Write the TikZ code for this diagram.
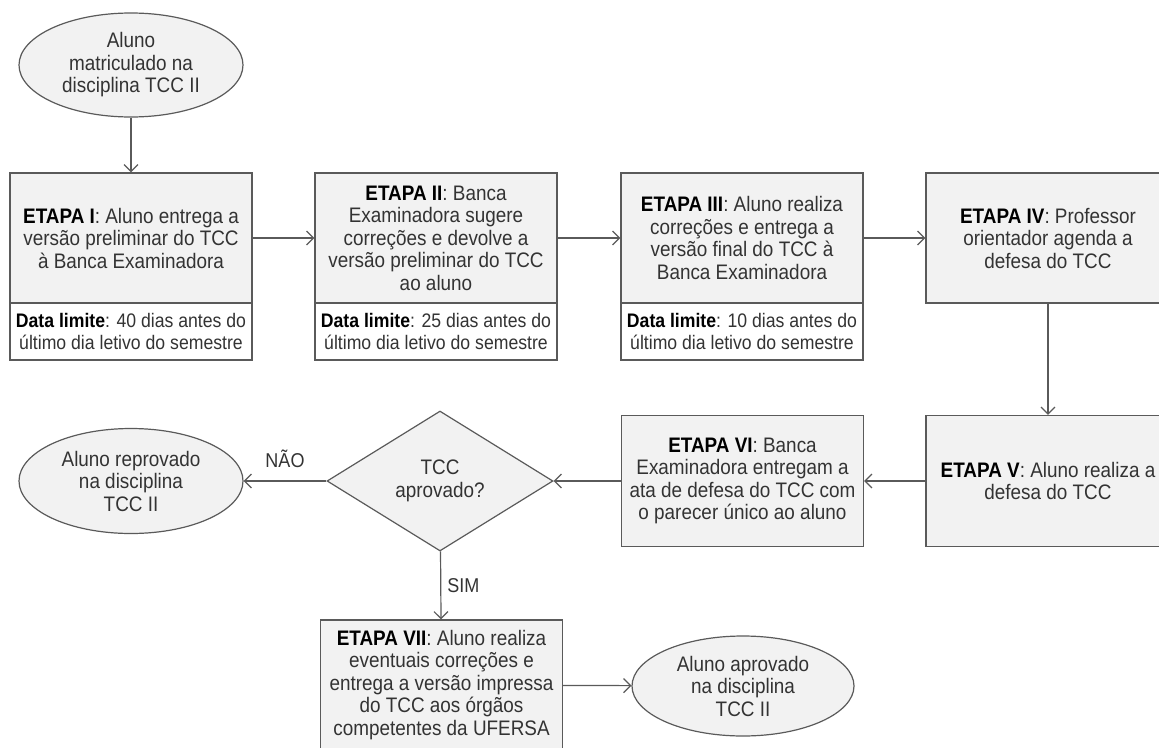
\documentclass[tikz,border=0pt]{standalone}
\usepackage{fontspec}
\setmainfont[FakeStretch=0.9]{Liberation Sans}
\usetikzlibrary{shapes.geometric,arrows.meta}
\definecolor{edge}{HTML}{5A5A5A}
\definecolor{panel}{HTML}{F2F2F2}
\definecolor{ink}{HTML}{333333}

\begin{document}
\begin{tikzpicture}[x=1pt,y=-1pt,
  every node/.style={text=ink, font=\fontsize{21}{22.5}\selectfont, align=center, inner sep=0pt},
  stage/.style={draw=edge, line width=1.2pt, fill=panel, minimum width=242pt, minimum height=130pt},
  deadline/.style={draw=edge, line width=1.2pt, fill=white, minimum width=242pt, minimum height=57pt,
    font=\fontsize{19.6}{22}\selectfont},
  terminal/.style={ellipse, draw=edge, line width=1.2pt, fill=panel, minimum width=224pt, minimum height=104pt},
  decision/.style={diamond, draw=edge, line width=1.2pt, fill=panel, minimum width=226pt, minimum height=140pt},
  flow/.style={draw=edge, line width=1.2pt, -{Straight Barb[length=7pt,width=14pt,line width=1.2pt]}},
  tag/.style={font=\fontsize{20}{22}\selectfont},
  key/.style={font=\bfseries, text=black}
]
\useasboundingbox (0,0) rectangle (1159,747);
\clip (0,0) rectangle (1159,747);

% start
\node[terminal] (start) at (131,65) {Aluno\\matriculado na\\disciplina TCC II};

% first row: stages with deadlines
\node[stage] (s1) at (131,238) {\textcolor{black}{\bfseries ETAPA I}: Aluno entrega a\\versão preliminar do TCC\\à Banca Examinadora};
\node[deadline] (d1) at (131,331.5) {\textcolor{black}{\bfseries Data limite}: 40 dias antes do\\último dia letivo do semestre};

\node[stage] (s2) at (436,238) {\textcolor{black}{\bfseries ETAPA II}: Banca\\Examinadora sugere\\correções e devolve a\\versão preliminar do TCC\\ao aluno};
\node[deadline] (d2) at (436,331.5) {\textcolor{black}{\bfseries Data limite}: 25 dias antes do\\último dia letivo do semestre};

\node[stage] (s3) at (742,238) {\textcolor{black}{\bfseries ETAPA III}: Aluno realiza\\correções e entrega a\\versão final do TCC à\\Banca Examinadora};
\node[deadline] (d3) at (742,331.5) {\textcolor{black}{\bfseries Data limite}: 10 dias antes do\\último dia letivo do semestre};

\node[stage, minimum width=244pt] (s4) at (1048,238) {\textcolor{black}{\bfseries ETAPA IV}: Professor\\orientador agenda a\\defesa do TCC};

% second row
\node[stage, minimum width=244pt, minimum height=131pt] (s5) at (1048,481) {\textcolor{black}{\bfseries ETAPA V}: Aluno realiza a\\defesa do TCC};
\node[stage, minimum height=131pt] (s6) at (742.5,481) {\textcolor{black}{\bfseries ETAPA VI}: Banca\\Examinadora entregam a\\ata de defesa do TCC com\\o parecer único ao aluno};
\node[decision] (q) at (440,481) {TCC\\aprovado?};
\node[terminal, minimum height=105pt] (fail) at (131,481) {Aluno reprovado\\na disciplina\\TCC II};

% third row
\node[stage] (s7) at (441.5,685) {\textcolor{black}{\bfseries ETAPA VII}: Aluno realiza\\eventuais correções e\\entrega a versão impressa\\do TCC aos órgãos\\competentes da UFERSA};
\node[terminal, minimum width=222pt, minimum height=100pt] (pass) at (743,686) {Aluno aprovado\\na disciplina\\TCC II};

% connectors
\draw[flow] (start) -- (s1);
\draw[flow] (s1) -- (s2);
\draw[flow] (s2) -- (s3);
\draw[flow] (s3) -- (s4);
\draw[flow] (s4) -- (s5);
\draw[flow] (s5) -- (s6);
\draw[flow] (s6) -- (q);
\draw[flow] (q) -- node[tag, above=13pt] {NÃO} (fail);
\draw[flow] (q) -- node[tag, right=6pt, pos=0.5] {SIM} (s7);
\draw[flow] (s7) -- (pass);
\end{tikzpicture}
\end{document}
